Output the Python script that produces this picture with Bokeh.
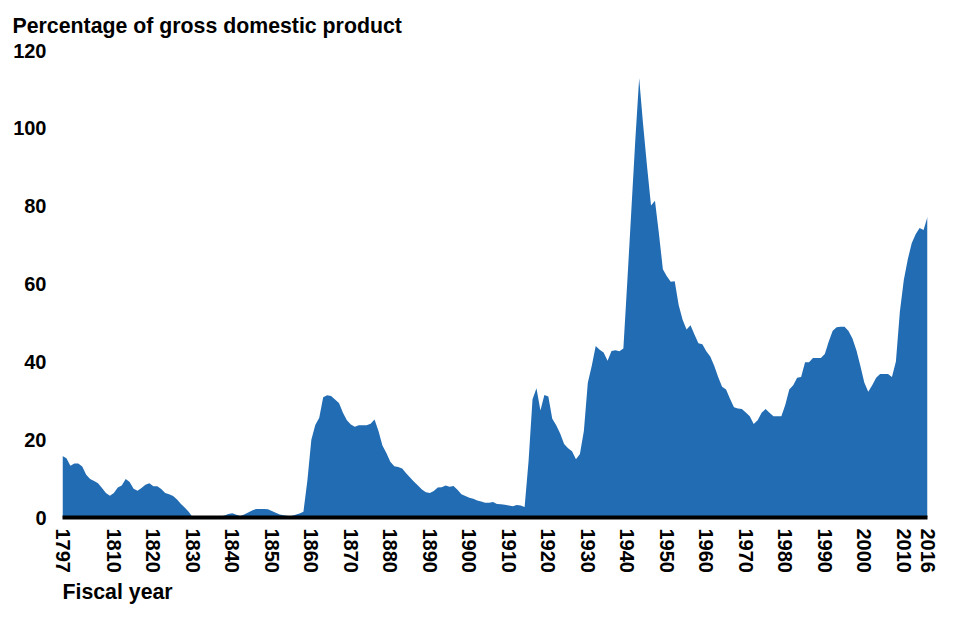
from bokeh.plotting import figure
from bokeh.models import FixedTicker, Title, Range1d
from bokeh.embed import file_html
from bokeh.resources import INLINE

# Fiscal years and federal debt held by the public (% of GDP)
years = list(range(1797, 2017))
debt_pct = [
    # 1797-1809
    15.8, 15.2, 13.3, 13.9, 13.9, 13.1, 11.0, 9.9, 9.4, 8.8, 7.6, 6.3, 5.6,
    # 1810-1819
    6.3, 7.7, 8.2, 9.9, 9.1, 7.4, 6.9, 7.6, 8.4, 8.8,
    # 1820-1829
    8.0, 8.0, 7.3, 6.3, 6.0, 5.5, 4.6, 3.5, 2.5, 1.4,
    # 1830-1839
    0.0, 0.0, 0.0, 0.0, 0.0, 0.0, 0.0, 0.2, 0.5, 0.9,
    # 1840-1849
    1.1, 0.7, 0.4, 0.8, 1.3, 1.8, 2.2, 2.2, 2.2, 2.1,
    # 1850-1859
    1.7, 1.2, 0.8, 0.6, 0.4, 0.4, 0.7, 1.0, 1.5, 9.5,
    # 1860-1869
    20.0, 23.8, 25.6, 30.9, 31.4, 31.2, 30.3, 29.4, 26.9, 25.0,
    # 1870-1879
    23.9, 23.3, 23.7, 23.7, 23.7, 24.1, 25.2, 22.2, 18.5, 16.6,
    # 1880-1889
    14.3, 13.2, 13.0, 12.6, 11.4, 10.3, 9.2, 8.2, 7.2, 6.5,
    # 1890-1899
    6.3, 6.8, 7.7, 7.8, 8.2, 7.9, 8.1, 7.1, 6.0, 5.5,
    # 1900-1909
    5.1, 4.8, 4.4, 4.1, 3.8, 3.8, 4.0, 3.5, 3.4, 3.3,
    # 1910-1919
    3.1, 2.9, 3.2, 3.1, 2.7, 14.5, 30.4, 33.2, 27.5, 31.5,
    # 1920-1929
    31.1, 25.4, 23.7, 21.6, 18.9, 17.8, 17.0, 15.0, 16.3, 22.2,
    # 1930-1939
    34.6, 39.0, 44.1, 43.1, 42.4, 40.3, 42.8, 43.0, 42.7, 43.4,
    # 1940-1949
    60.7, 78.6, 96.6, 112.9, 101.0, 90.2, 80.2, 81.4, 73.0, 63.8,
    # 1950-1959
    62.0, 60.6, 60.7, 54.6, 50.8, 48.3, 49.4, 47.0, 44.8, 44.5,
    # 1960-1969
    42.7, 41.4, 39.0, 36.1, 33.6, 32.9, 30.5, 28.3, 28.0, 27.9,
    # 1970-1979
    27.0, 26.0, 24.0, 25.0, 26.9, 27.9, 26.9, 26.0, 26.0, 26.0,
    # 1980-1989
    29.0, 32.9, 34.0, 35.9, 36.1, 39.9, 39.9, 41.0, 41.0, 41.0,
    # 1990-1999
    42.0, 45.2, 48.0, 48.9, 49.0, 49.0, 47.9, 46.0, 43.0, 39.0,
    # 2000-2009
    34.7, 32.3, 34.0, 35.9, 36.9, 36.9, 36.9, 36.1, 40.1, 52.9,
    # 2010-2016
    61.0, 66.3, 70.5, 72.8, 74.4, 73.9, 77.3,
]

tick_years = [1797, 1810, 1820, 1830, 1840, 1850, 1860, 1870, 1880, 1890,
              1900, 1910, 1920, 1930, 1940, 1950, 1960, 1970, 1980, 1990,
              2000, 2010, 2016]
y_ticks = [0, 20, 40, 60, 80, 100, 120]

y_title = "Percentage of gross domestic product"
x_title = "Fiscal year"

BLUE = "#226cb4"
FONT = "Liberation Sans"

p = figure(width=941, height=606, output_backend="svg", toolbar_location=None,
           x_range=Range1d(years[0], years[-1]), y_range=Range1d(0, 120),
           min_border_left=62, min_border_right=14, min_border_top=0,
           min_border_bottom=0)

p.varea(x=years, y1=0, y2=debt_pct, fill_color=BLUE)

p.grid.visible = False
p.outline_line_color = None
p.background_fill_color = "white"
p.border_fill_color = "white"

# x axis
p.xaxis.ticker = FixedTicker(ticks=tick_years)
p.xaxis.major_label_orientation = "vertical"
p.xaxis.axis_line_width = 4
p.xaxis.axis_line_color = "black"
p.xaxis.major_tick_line_color = None
p.xaxis.minor_tick_line_color = None
p.xaxis.major_tick_out = 0
p.xaxis.major_tick_in = 0
p.xaxis.minor_tick_out = 0
p.xaxis.major_label_standoff = 11
p.xaxis.major_label_text_font = FONT
p.xaxis.major_label_text_font_style = "bold"
p.xaxis.major_label_text_font_size = "20px"
p.xaxis.major_label_text_color = "black"

# y axis
p.yaxis.ticker = FixedTicker(ticks=y_ticks)
p.yaxis.axis_line_color = None
p.yaxis.major_tick_line_color = None
p.yaxis.minor_tick_line_color = None
p.yaxis.major_tick_out = 0
p.yaxis.major_tick_in = 0
p.yaxis.minor_tick_out = 0
p.yaxis.major_label_standoff = 16
p.yaxis.major_label_text_font = FONT
p.yaxis.major_label_text_font_style = "bold"
p.yaxis.major_label_text_font_size = "20px"
p.yaxis.major_label_text_color = "black"

# titles
p.title.text = y_title
p.title.align = "left"
p.title.offset = -50
p.title.vertical_align = "middle"
p.title.standoff = 24
p.title.text_font = FONT
p.title.text_font_style = "bold"
p.title.text_font_size = "21.3px"
p.title.text_color = "black"

p.add_layout(Title(text=x_title, align="left", standoff=5, text_font=FONT,
                   text_font_style="bold", text_font_size="21.3px",
                   text_color="black"), "below")

open("out.html", "w").write(file_html(p, INLINE))
